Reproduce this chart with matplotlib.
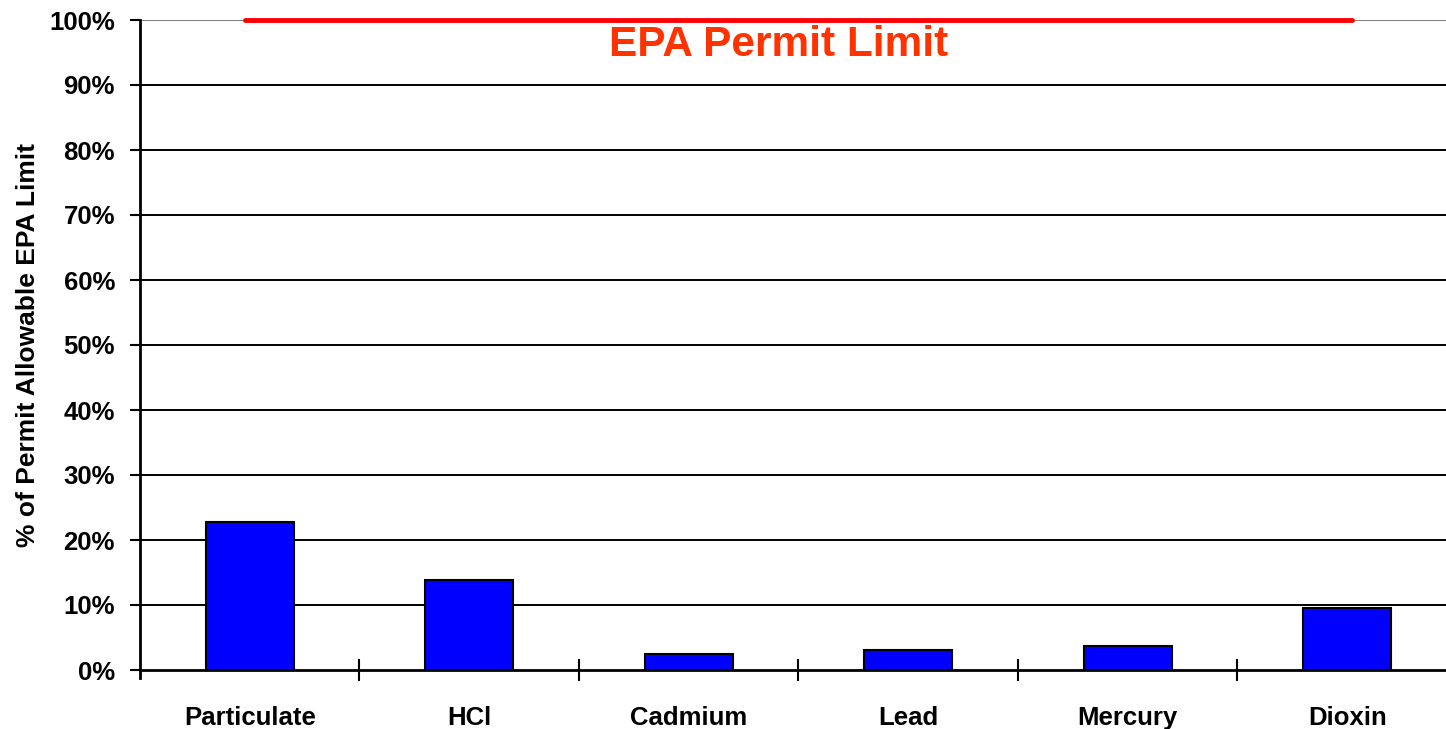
import matplotlib
matplotlib.use('Agg')
import matplotlib.pyplot as plt
import numpy as np

plt.rcParams['font.family'] = ['Liberation Sans', 'DejaVu Sans']
plt.rcParams['font.weight'] = 'bold'

pollutants = ['Particulate', 'HCl', 'Cadmium', 'Lead', 'Mercury', 'Dioxin']
pct_of_limit = [22.8, 13.9, 2.5, 3.1, 3.7, 9.6]
y_ticks = [0, 10, 20, 30, 40, 50, 60, 70, 80, 90, 100]
limit = 100

fig = plt.figure(figsize=(14.46, 7.29), dpi=100)
ax = fig.add_axes([140/1446, 1 - 670/729, (1446 - 140)/1446, 650/729])

x = np.arange(len(pollutants))
ax.set_axisbelow(True)
for t in y_ticks[1:-1]:
    ax.axhline(t, color='black', lw=1.4, zorder=0)
ax.axhline(limit, color='#808080', lw=1.5, zorder=0)
ax.bar(x, pct_of_limit, width=0.4, color='#0000ff', edgecolor='black', linewidth=1.5, zorder=2)

# EPA limit line and label
ax.plot([-0.02, 5.02], [limit, limit], color='#ff0000', lw=3.5, solid_capstyle='round', zorder=3, clip_on=False)
ax.text(2.41, limit - 3.9, 'EPA Permit Limit', color='#ff3300', fontsize=30.5, fontweight='bold',
        ha='center', va='center')

ax.set_xlim(-0.5, 5.45)
ax.set_ylim(0, 100)
ax.set_yticks(y_ticks)
ax.set_yticklabels([f'{t}%' for t in y_ticks], fontsize=18.5, fontweight='bold')
ax.tick_params(axis='y', direction='out', length=7, width=1.5, pad=11)

ax.set_xticks(x)
ax.set_xticklabels(pollutants, fontsize=18.5, fontweight='bold')
ax.tick_params(axis='x', which='major', length=0, pad=26)
ax.set_xticks(np.arange(0.5, 5.0, 1.0), minor=True)
ax.tick_params(axis='x', which='minor', direction='inout', length=16, width=1.5)

ax.set_ylabel('% of Permit Allowable EPA Limit', fontsize=19, fontweight='bold', labelpad=7)

for s in ['top', 'right']:
    ax.spines[s].set_visible(False)
ax.spines['left'].set_linewidth(2)
ax.spines['bottom'].set_linewidth(2)
ax.spines['left'].set_bounds(-1.2, 100)
ax.spines['left'].set_clip_on(False)

fig.savefig('out.png', dpi=100)
